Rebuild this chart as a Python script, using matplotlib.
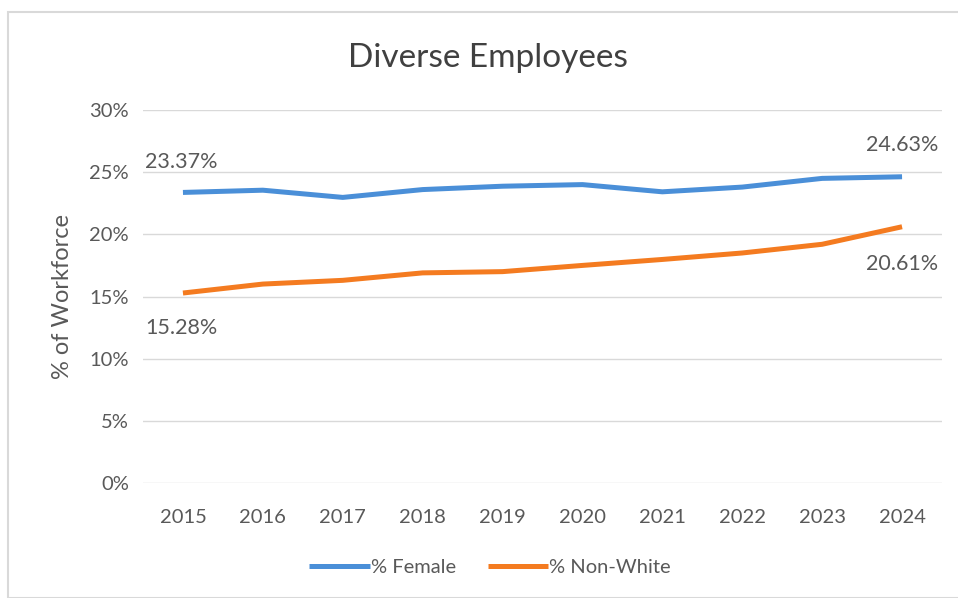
import matplotlib
matplotlib.use("Agg")
import matplotlib.pyplot as plt
from matplotlib.patches import Rectangle

years = [2015, 2016, 2017, 2018, 2019, 2020, 2021, 2022, 2023, 2024]
female = [23.37, 23.55, 22.97, 23.6, 23.87, 24.0, 23.42, 23.8, 24.5, 24.63]
nonwhite = [15.28, 16.0, 16.3, 16.9, 17.0, 17.5, 17.98, 18.5, 19.2, 20.61]
yticks = [0, 5, 10, 15, 20, 25, 30]

plt.rcParams['font.family'] = ['Lato', 'DejaVu Sans']
txt = '#595959'
blue = '#4A8FD8'
orange = '#F47B20'

fig = plt.figure(figsize=(9.58, 5.98), dpi=100)
ax = fig.add_axes([143/958, 1-483/598, (942-143)/958, (483-110)/598])

ax.plot(years, female, color=blue, lw=3.6, solid_capstyle='butt', label='% Female')
ax.plot(years, nonwhite, color=orange, lw=3.6, solid_capstyle='butt', label='% Non-White')

ax.set_xlim(2014.5, 2024.5)
ax.set_ylim(0, 30)
ax.set_yticks(yticks)
ax.set_yticklabels([f'{v}%' for v in yticks], color=txt, fontsize=14.5)
ax.set_xticks(years)
ax.set_xticklabels([str(y) for y in years], color=txt, fontsize=14.5)
ax.tick_params(length=0, pad=10)
ax.tick_params(axis='x', pad=19)
ax.grid(axis='y', color='#D9D9D9', lw=1)
ax.set_axisbelow(True)
for s in ax.spines.values():
    s.set_visible(False)
ax.set_ylabel('% of Workforce', color=txt, fontsize=17, labelpad=12)

fs = 15.5
ax.annotate(f'{female[0]:.2f}%', (years[0], female[0]), xytext=(-27, 22),
            textcoords='offset points', color=txt, fontsize=fs, ha='left', va='center')
ax.annotate(f'{nonwhite[0]:.2f}%', (years[0], nonwhite[0]), xytext=(-27, -25),
            textcoords='offset points', color=txt, fontsize=fs, ha='left', va='center')
ax.annotate(f'{female[-1]:.2f}%', (years[-1], female[-1]), xytext=(26, 23),
            textcoords='offset points', color=txt, fontsize=fs, ha='right', va='center')
ax.annotate(f'{nonwhite[-1]:.2f}%', (years[-1], nonwhite[-1]), xytext=(26, -27),
            textcoords='offset points', color=txt, fontsize=fs, ha='right', va='center')

fig.text(488/958, 1-58/598, 'Diverse Employees', ha='center', va='center',
         color='#404040', fontsize=24)

leg = fig.legend(loc='center', bbox_to_anchor=(490/958, 1-567/598), ncol=2,
                 frameon=False, fontsize=14.5, handlelength=3.0, handletextpad=0.05,
                 columnspacing=1.6, labelcolor=txt)

fig.patches.append(Rectangle((8/958, 0), 1, 1-12/598, transform=fig.transFigure,
                             fill=False, edgecolor='#D9D9D9', lw=1.5))

fig.savefig('out.png', dpi=100)
